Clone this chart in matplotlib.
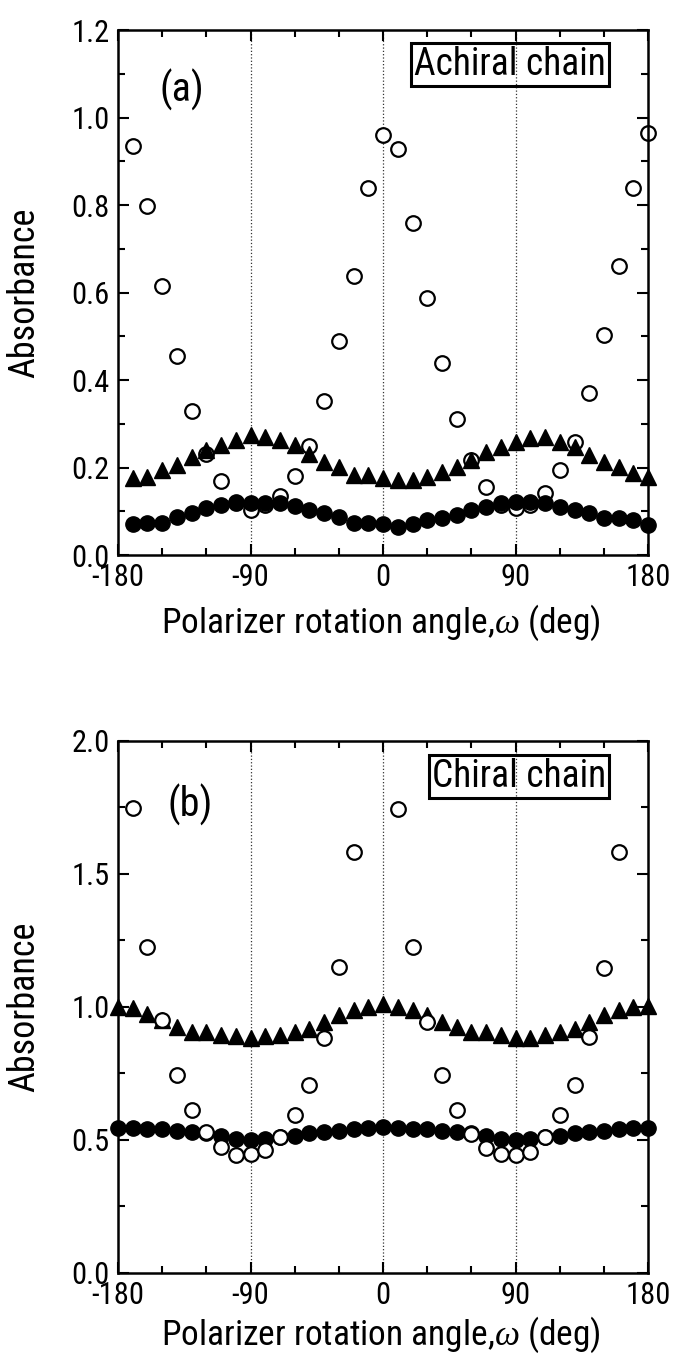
import numpy as np
import matplotlib
matplotlib.use("Agg")
import matplotlib.pyplot as plt
from matplotlib import font_manager
from matplotlib.ticker import MultipleLocator, FormatStrFormatter

# narrow sans if one is installed, else plain Liberation Sans
installed = {f.name for f in font_manager.fontManager.ttflist}
families = [f for f in ['Liberation Sans Narrow', 'Roboto Condensed', 'Liberation Sans']
            if f in installed] + ['DejaVu Sans']
plt.rcParams['font.family'] = families
plt.rcParams['axes.unicode_minus'] = False
plt.rcParams['mathtext.fontset'] = 'custom'
plt.rcParams['mathtext.it'] = 'Liberation Serif:italic'
plt.rcParams['mathtext.rm'] = 'Liberation Sans'

# --- (a) achiral chain, angles -170..180 step 10 ---
angle_a = np.arange(-170, 181, 10)
open_a = [0.935, 0.798, 0.616, 0.455, 0.329, 0.23, 0.169, 0.12, 0.103, 0.115, 0.135, 0.18,
          0.249, 0.353, 0.49, 0.638, 0.838, 0.96, 0.929, 0.758, 0.587, 0.438, 0.312, 0.217,
          0.156, 0.115, 0.107, 0.115, 0.141, 0.194, 0.259, 0.37, 0.503, 0.66, 0.838, 0.964]
tri_a = [0.175, 0.179, 0.194, 0.206, 0.225, 0.24, 0.251, 0.263, 0.274, 0.27, 0.263, 0.251,
         0.232, 0.213, 0.202, 0.183, 0.183, 0.175, 0.171, 0.171, 0.179, 0.19, 0.202, 0.217,
         0.236, 0.248, 0.259, 0.267, 0.27, 0.259, 0.248, 0.229, 0.213, 0.202, 0.187, 0.179]
dot_a = [0.072, 0.074, 0.074, 0.088, 0.095, 0.107, 0.114, 0.122, 0.12, 0.119, 0.119, 0.111,
         0.103, 0.095, 0.088, 0.074, 0.074, 0.072, 0.065, 0.072, 0.080, 0.084, 0.091, 0.103,
         0.110, 0.118, 0.122, 0.122, 0.118, 0.110, 0.103, 0.095, 0.084, 0.084, 0.080, 0.069]

# --- (b) chiral chain, angles -180..180 step 10 (nan = off scale) ---
angle_b = np.arange(-180, 181, 10)
open_b = [np.nan, 1.747, 1.227, 0.95, 0.744, 0.613, 0.531, 0.475, 0.445, 0.447, 0.462, 0.512,
          0.594, 0.707, 0.882, 1.152, 1.584, np.nan, np.nan, 1.743, 1.227, 0.945, 0.744, 0.613,
          0.524, 0.47, 0.447, 0.445, 0.456, 0.512, 0.594, 0.707, 0.886, 1.145, 1.584, np.nan, np.nan]
tri_b = [1.0, 0.995, 0.975, 0.95, 0.925, 0.905, 0.905, 0.895, 0.89, 0.885, 0.89, 0.895,
         0.905, 0.918, 0.945, 0.97, 0.99, 0.998, 1.01, 0.998, 0.99, 0.97, 0.945, 0.925,
         0.905, 0.905, 0.893, 0.885, 0.885, 0.895, 0.905, 0.918, 0.945, 0.97, 0.99, 0.998, 1.005]
dot_b = [0.545, 0.545, 0.54, 0.54, 0.535, 0.53, 0.525, 0.515, 0.505, 0.50, 0.505, 0.51,
         0.515, 0.525, 0.53, 0.535, 0.54, 0.545, 0.55, 0.545, 0.54, 0.54, 0.535, 0.53,
         0.525, 0.515, 0.505, 0.50, 0.505, 0.51, 0.515, 0.525, 0.53, 0.535, 0.54, 0.545, 0.545]

XLABEL = "Polarizer rotation angle,$\\omega$ (deg)"

fig = plt.figure(figsize=(6.78, 13.59), dpi=100)
ax_a = fig.add_axes([0.174, 0.5916, 0.782, 0.3863])
ax_b = fig.add_axes([0.174, 0.0633, 0.782, 0.3915])


def style_axis(ax, ymax, ymajor, yminor, xlab_y):
    ax.set_xlim(-180, 180)
    ax.set_ylim(0, ymax)
    ax.xaxis.set_major_locator(MultipleLocator(90))
    ax.xaxis.set_minor_locator(MultipleLocator(30))
    ax.yaxis.set_major_locator(MultipleLocator(ymajor))
    ax.yaxis.set_minor_locator(MultipleLocator(yminor))
    ax.yaxis.set_major_formatter(FormatStrFormatter('%.1f'))
    ax.tick_params(which='both', direction='in', top=True, right=True, width=1.5,
                   labelsize=22)
    ax.tick_params(which='major', length=8, pad=6)
    ax.tick_params(which='minor', length=5)
    for s in ax.spines.values():
        s.set_linewidth(1.8)
    for v in (-90, 0, 90):
        ax.axvline(v, color='#333333', ls=':', lw=0.9, zorder=1)
    ax.set_xlabel(XLABEL, fontsize=25.5, va='baseline')
    ax.xaxis.set_label_coords(0.495, xlab_y)
    ax.set_ylabel("Absorbance", fontsize=26)
    ax.yaxis.set_label_coords(-0.142, 0.5)


def label_box(ax, x, y, txt):
    ax.text(x, y, txt, transform=ax.transAxes, fontsize=27, ha='center', va='center',
            bbox=dict(boxstyle='square,pad=0.08', fc='none', ec='black', lw=2.2))


# panel (a)
style_axis(ax_a, 1.2, 0.2, 0.1, -0.149)
ax_a.plot(angle_a, open_a, 'o', ms=10.5, mfc='white', mec='black', mew=1.6, zorder=2,
          clip_on=False)
ax_a.plot(angle_a, tri_a, '^', ms=11, color='black', zorder=3, clip_on=False)
ax_a.plot(angle_a, dot_a, 'o', ms=11, color='black', zorder=4, clip_on=False)
ax_a.text(0.121, 0.886, "(a)", transform=ax_a.transAxes, fontsize=29,
          ha='center', va='center')
label_box(ax_a, 0.74, 0.934, "Achiral chain")

# panel (b)
style_axis(ax_b, 2.0, 0.5, 0.25, -0.135)
ax_b.plot(angle_b, tri_b, '^', ms=11, color='black', zorder=2, clip_on=False)
ax_b.plot(angle_b, dot_b, 'o', ms=11, color='black', zorder=3, clip_on=False)
ax_b.plot(angle_b, open_b, 'o', ms=10.5, mfc='white', mec='black', mew=1.6, zorder=4,
          clip_on=False)
ax_b.text(0.136, 0.88, "(b)", transform=ax_b.transAxes, fontsize=29,
          ha='center', va='center')
label_box(ax_b, 0.757, 0.933, "Chiral chain")

fig.savefig("out.png", dpi=100)
